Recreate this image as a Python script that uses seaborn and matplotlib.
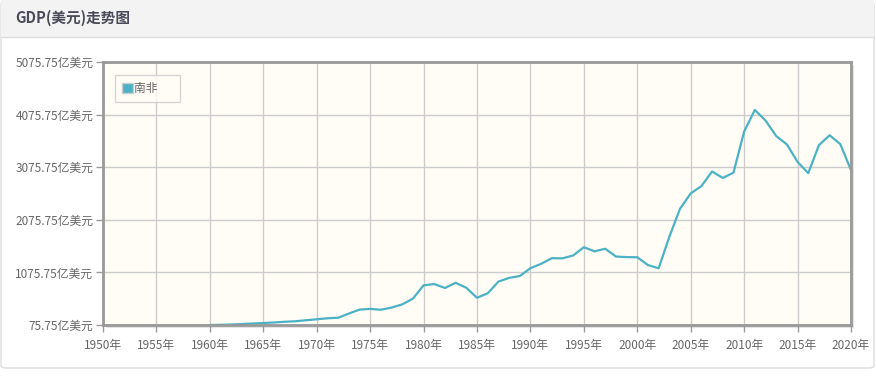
import matplotlib
matplotlib.use("Agg")
import matplotlib.pyplot as plt
import matplotlib.patches as mpatches
import pandas as pd
import seaborn as sns

# South Africa GDP, 亿美元
years = list(range(1960, 2021))
gdp = [75.8, 79.7, 85.0, 93.7, 103.7, 113.4, 123.8, 137.2, 147.1, 166.2,
       184.2, 203.5, 213.6, 292.9, 368.1, 382.1, 366.2, 406.3, 467.4, 576.5,
       829.8, 854.5, 780.0, 878.3, 783.3, 593.5, 677.5, 900.5, 970.5, 1007.2,
       1155.5, 1239.4, 1345.5, 1343.1, 1397.5, 1554.6, 1476.1, 1525.9, 1377.7, 1366.3,
       1363.6, 1215.1, 1154.8, 1752.6, 2285.9, 2577.7, 2716.4, 2994.2, 2871.0, 2972.2,
       3753.5, 4164.2, 3963.3, 3668.3, 3509.0, 3176.2, 2963.6, 3495.5, 3682.9, 3514.3,
       3019.2]
series_name = "南非"
title_text = "GDP(美元)走势图"
x_ticks = list(range(1950, 2021, 5))
x_labels = [f"{y}年" for y in x_ticks]
y_ticks = [75.75 + 1000 * i for i in range(6)]
y_labels = [f"{v:.2f}亿美元" for v in y_ticks]

df = pd.DataFrame({"year": years, "gdp": gdp})

sns.set_theme(style="white")
plt.rcParams['font.family'] = ['Noto Sans CJK SC', 'DejaVu Sans']

W, H = 876, 388
fig = plt.figure(figsize=(W / 100, H / 100), dpi=100)
fig.patch.set_facecolor("white")

# outer panel and title bar (behind the axes)
panel = mpatches.FancyBboxPatch((1 / W, 20 / H), 873 / W, 366 / H,
                                boxstyle="round,pad=0,rounding_size=0.006",
                                transform=fig.transFigure, facecolor="white",
                                edgecolor="#dddddd", linewidth=1, zorder=-10)
fig.patches.append(panel)
fig.patches.append(mpatches.Rectangle((1 / W, 1 - 37 / H), 873 / W, 37 / H,
                                      transform=fig.transFigure, facecolor="#f3f3f3",
                                      edgecolor="none", zorder=-9))
fig.lines.append(plt.Line2D([1 / W, 874 / W], [1 - 37 / H, 1 - 37 / H],
                            transform=fig.transFigure, color="#dddddd", linewidth=1,
                            zorder=-8))
fig.text(15 / W, 1 - 18 / H, title_text, fontsize=10.5, fontweight="bold",
         color="#4a4a5a", va="center", ha="left")

left, right, top, bottom = 103, 851, 62, 325

# frame shadow
fig.patches.append(mpatches.Rectangle(((left + 3) / W, 1 - (bottom + 3) / H),
                                      (right - left) / W, (bottom - top) / H,
                                      transform=fig.transFigure, facecolor="#e4e4e4",
                                      edgecolor="none", zorder=-5))

ax = fig.add_axes([left / W, 1 - bottom / H, (right - left) / W, (bottom - top) / H])
ax.set_facecolor("#fffdf6")
sns.lineplot(data=df, x="year", y="gdp", ax=ax, color="#4bb2c5", linewidth=1.6,
             legend=False)

ax.set_xlim(1950, 2020)
ax.set_ylim(75.75, 5075.75)
ax.set_xticks(x_ticks)
ax.set_xticklabels(x_labels)
ax.set_yticks(y_ticks)
ax.set_yticklabels(y_labels)
ax.set_xlabel("")
ax.set_ylabel("")
ax.grid(True, color="#cccccc", linewidth=1)
ax.set_axisbelow(True)
for s in ax.spines.values():
    s.set_color("#999999")
    s.set_linewidth(2)
ax.tick_params(axis="both", colors="#999999", labelcolor="#666666", labelsize=8.5,
               length=5, width=1, direction="out", pad=2, left=True, bottom=True)
ax.tick_params(axis="x", pad=5)

handle = mpatches.Patch(facecolor="#4bb2c5", edgecolor="#cccccc", linewidth=1)
leg = ax.legend([handle], [series_name + "      "], loc="upper left",
                bbox_to_anchor=(12 / (right - left), 1 - 13 / (bottom - top)),
                frameon=True, fancybox=False, fontsize=8.5, handlelength=0.9,
                handleheight=0.9, handletextpad=0.1, borderpad=0.6,
                borderaxespad=0)
leg.get_frame().set_edgecolor("#cccccc")
leg.get_frame().set_facecolor("#fffdf6")
leg.get_frame().set_linewidth(1)
for t in leg.get_texts():
    t.set_color("#666666")

fig.savefig("out.png", dpi=100)
